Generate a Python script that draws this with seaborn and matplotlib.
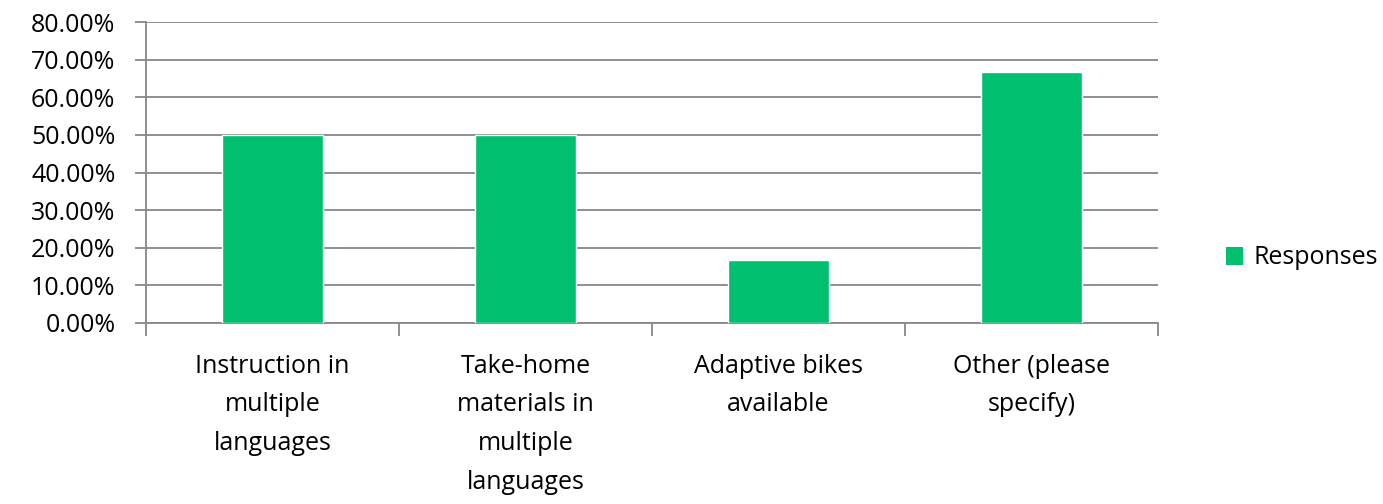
import matplotlib
matplotlib.use("Agg")
import matplotlib.pyplot as plt
import seaborn as sns
import pandas as pd
import numpy as np
from matplotlib.ticker import FuncFormatter, FixedLocator
from matplotlib.patches import Patch

categories = ["Instruction in\nmultiple\nlanguages", "Take-home\nmaterials in\nmultiple\nlanguages",
              "Adaptive bikes\navailable", "Other (please\nspecify)"]
responses = [50.0, 50.0, 16.67, 66.67]
series_name = "Responses"
yticks = [0, 10, 20, 30, 40, 50, 60, 70, 80]

sns.set_theme(style="white")
plt.rcParams['font.family'] = ['Open Sans', 'DejaVu Sans']
plt.rcParams['text.color'] = 'black'
plt.rcParams['xtick.color'] = 'black'
plt.rcParams['ytick.color'] = 'black'

df = pd.DataFrame({"cat": categories, "val": responses})
color = "#00BF6F"
grid_c = "#878787"
fs = 18

fig = plt.figure(figsize=(13.83, 5.04), dpi=100)
ax = fig.add_axes([146/1383, 1-323/504, (1158-146)/1383, (323-22)/504])
sns.barplot(data=df, x="cat", y="val", color=color, width=0.4, saturation=1, ax=ax, zorder=3)

ax.set_ylim(0, 80)
ax.set_xlim(-0.5, len(categories) - 0.5)
ax.yaxis.set_major_locator(FixedLocator(yticks))
ax.yaxis.set_major_formatter(FuncFormatter(lambda v, p: f"{v:.2f}%"))
ax.grid(axis="y", color=grid_c, linewidth=1.3, zorder=0)
ax.set_axisbelow(True)
for s in ["top", "right"]:
    ax.spines[s].set_visible(False)
ax.spines["left"].set_color(grid_c)
ax.spines["left"].set_linewidth(1.3)
ax.spines["bottom"].set_color(grid_c)
ax.spines["bottom"].set_linewidth(1.3)
ax.tick_params(axis="y", which="major", length=8, width=1.3, color=grid_c, labelcolor="black",
               labelsize=fs, pad=14, left=True)
ax.tick_params(axis="x", which="major", length=0, labelsize=fs, labelcolor="black", pad=22)
ax.xaxis.set_minor_locator(FixedLocator(np.arange(-0.5, len(categories), 1.0)))
ax.tick_params(axis="x", which="minor", length=9, width=1.3, color=grid_c, bottom=True)
for lbl in ax.get_xticklabels():
    lbl.set_linespacing(1.72)
    lbl.set_ha("center")
ax.set_xlabel("")
ax.set_ylabel("")

handles = [Patch(facecolor=color, edgecolor="none", label=series_name)]
fig.legend(handles=handles, loc="center left", bbox_to_anchor=(1203/1383, 1-258/504),
           frameon=False, fontsize=fs, handlelength=0.7, handleheight=0.7, handletextpad=0.4)

fig.savefig("out.png", dpi=100)
